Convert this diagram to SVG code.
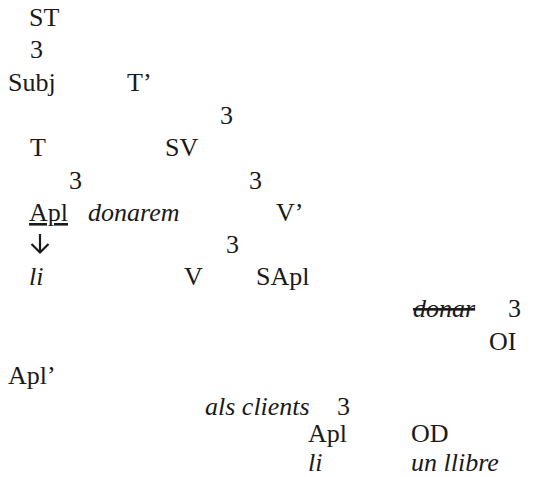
<svg xmlns="http://www.w3.org/2000/svg" width="536" height="477" viewBox="0 0 536 477" font-family="'Liberation Serif', Tinos, 'DejaVu Serif', 'Noto Serif', serif">
  <style>
    text { font-family: "Liberation Serif", Tinos, "DejaVu Serif", "Noto Serif", serif; font-size: 26px; fill: #1a1a1a; }
    .it { font-style: italic; }
    .ul { text-decoration: underline; }
    .st { text-decoration: line-through; }
    .arw { fill: none; stroke: #1a1a1a; stroke-width: 2.2; stroke-linecap: butt; stroke-linejoin: miter; }
  </style>
  <rect width="536" height="477" fill="#ffffff"/>
  <!-- tree nodes, one group per node; "3" marks each branching -->
  <g id="ST"><text x="29" y="26">ST</text></g>
  <g id="b1"><text x="30" y="58">3</text></g>
  <g id="Subj"><text x="8" y="91">Subj</text></g>
  <g id="Tbar"><text x="127" y="91">T’</text></g>
  <g id="b2"><text x="220" y="124">3</text></g>
  <g id="T"><text x="30" y="156">T</text></g>
  <g id="SV"><text x="165" y="156">SV</text></g>
  <g id="b3"><text x="69" y="189">3</text></g>
  <g id="b4"><text x="249" y="189">3</text></g>
  <g id="Apl1"><text x="29" y="221" class="ul">Apl</text></g>
  <g id="donarem"><text x="88" y="221" class="it">donarem</text></g>
  <g id="Vbar"><text x="276" y="221">V’</text></g>
  <g id="b5"><text x="226" y="253">3</text></g>
  <g id="li1"><text x="29" y="285" class="it">li</text></g>
  <g id="V"><text x="184" y="285">V</text></g>
  <g id="SApl"><text x="256" y="285">SApl</text></g>
  <g id="donar"><text x="413" y="317" class="it st">donar</text></g>
  <g id="b6"><text x="508" y="317">3</text></g>
  <g id="OI"><text x="489" y="350">OI</text></g>
  <g id="Aplbar"><text x="8" y="384">Apl’</text></g>
  <g id="alsclients"><text x="205" y="415" class="it">als clients</text></g>
  <g id="b7"><text x="337" y="415">3</text></g>
  <g id="Apl2"><text x="308" y="442">Apl</text></g>
  <g id="OD"><text x="411" y="442">OD</text></g>
  <g id="li2"><text x="308" y="471" class="it">li</text></g>
  <g id="unllibre"><text x="411" y="471" class="it">un llibre</text></g>
  <!-- downward arrow from the clitic head -->
  <g id="connectors">
    <path class="arw" d="M40 234 V252 M31.5 244 L40 252.5 L48.5 244"/>
  </g>
</svg>
